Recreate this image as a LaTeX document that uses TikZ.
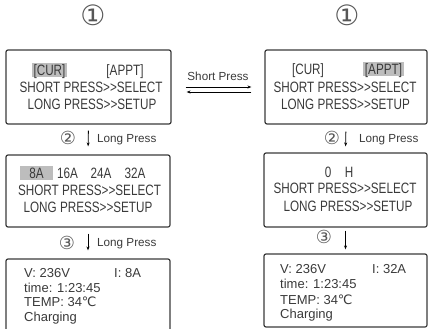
\documentclass[tikz,border=0pt]{standalone}
\usepackage{fontspec}
\setmainfont{Liberation Sans}
\newfontfamily\lcdfont[FakeStretch=0.78]{Liberation Sans}
\newfontfamily\circfont{DejaVu Sans}
\usetikzlibrary{arrows.meta, positioning}
\definecolor{lcdgray}{HTML}{3A3A3A}
\definecolor{hlgray}{HTML}{BDBDBD}
\tikzset{
	screennode/.style={
			draw=lcdgray,
			line width=1.2pt,
			rounded corners=2pt,
			inner sep=0pt
		},
	lcdtext/.style={
			font=\lcdfont\fontsize{15}{17}\selectfont,
			text=lcdgray,
			inner sep=0pt,
			text height=10.7pt,
			text depth=0pt
		},
	hltext/.style={
			lcdtext,
			fill=hlgray,
			inner xsep=1.5pt,
			inner ysep=2pt
		},
	statustext/.style={
			font=\fontsize{13}{15}\selectfont,
			text=lcdgray,
			inner sep=0pt,
			text height=9.3pt,
			text depth=0pt,
			anchor=west
		},
	presslabel/.style={
			font=\fontsize{11.7}{13}\selectfont,
			text=lcdgray,
			inner sep=0pt,
			text height=8.4pt,
			text depth=0pt
		},
	stepnum/.style={
			font=\circfont\fontsize{18}{20}\selectfont,
			text=lcdgray!85,
			inner sep=0pt
		},
	screennum/.style={
			font=\circfont\fontsize{28}{30}\selectfont,
			text=lcdgray!85,
			inner sep=0pt
		},
	pressarrow/.style={
			line width=0.8pt,
			black,
			-{Stealth[length=4pt,width=3pt]}
		}
}
\newcommand{\degc}{{\circfont ℃}}

\begin{document}
\begin{tikzpicture}[x=1pt, y=-1pt]
\useasboundingbox (0,0) rectangle (428,329);

% screens
\node[screennode, minimum width=165pt, minimum height=74pt] (cur) at (88.5,87) {};
\node[screennode, minimum width=162pt, minimum height=74pt] (appt) at (346,87) {};
\node[screennode, minimum width=164pt, minimum height=72pt] (cursel) at (88,191) {};
\node[screennode, minimum width=163pt, minimum height=74pt] (apptsel) at (345.5,190) {};
\node[screennode, minimum width=164pt, minimum height=72pt] (curstat) at (88,295) {};
\node[screennode, minimum width=163pt, minimum height=73pt] (apptstat) at (345.5,290.5) {};

% screen numbers
\node[screennum] (numl) at (93,15) {①};
\node[screennum] (numr) at (347,15) {①};

% main menu
\node[hltext] (curtabl) at (49.5,70) {[CUR]};
\node[lcdtext] (appttabl) at (125,70) {[APPT]};
\node[lcdtext] (shortl) at (91,87) {SHORT PRESS>{}>SELECT};
\node[lcdtext] (longl) at (92,104) {LONG PRESS>{}>SETUP};

\node[lcdtext] (curtabr) at (308,69) {[CUR]};
\node[hltext] (appttabr) at (383.5,69) {[APPT]};
\node[lcdtext] (shortr) at (345,87) {SHORT PRESS>{}>SELECT};
\node[lcdtext] (longr) at (345.5,104) {LONG PRESS>{}>SETUP};

% selection
\node[hltext, minimum width=33pt] (amp8) at (36.5,173) {8A};
\node[lcdtext] (amp16) at (67.5,173) {16A};
\node[lcdtext] (amp24) at (101,173) {24A};
\node[lcdtext] (amp32) at (135,173) {32A};
\node[lcdtext] (shortsl) at (89.5,190) {SHORT PRESS>{}>SELECT};
\node[lcdtext] (longsl) at (88,207) {LONG PRESS>{}>SETUP};

\node[lcdtext] (hours) at (328,172) {0};
\node[lcdtext] (hunit) at (349,172) {H};
\node[lcdtext] (shortsr) at (345,188) {SHORT PRESS>{}>SELECT};
\node[lcdtext] (longsr) at (348,206) {LONG PRESS>{}>SETUP};

% status
\node[statustext] (voltl) at (24,273) {V: 236V};
\node[statustext] (ampl) at (114,273) {I: 8A};
\node[statustext] (timel) at (24,288) {time: 1:23:45};
\node[statustext] (templ) at (24,302) {TEMP: 34\degc};
\node[statustext] (chgl) at (24,317) {Charging};

\node[statustext] (voltr) at (280,269) {V: 236V};
\node[statustext] (ampr) at (372,269) {I: 32A};
\node[statustext] (timer) at (280,284) {time: 1:23:45};
\node[statustext] (tempr) at (280,300) {TEMP: 34\degc};
\node[statustext] (chgr) at (280,314) {Charging};

% steps
\node[stepnum] (twol) at (68,138) {②};
\node[stepnum] (twor) at (332,138) {②};
\node[stepnum] (threel) at (67,243) {③};
\node[stepnum] (threer) at (324,237) {③};
\node[presslabel, anchor=west] (longpl1) at (97,138) {Long Press};
\node[presslabel, anchor=west] (longpl2) at (97,242) {Long Press};
\node[presslabel, anchor=west] (longpr1) at (359,138) {Long Press};
\node[presslabel] (shortp) at (218,76) {Short Press};

\draw[pressarrow, shorten <=6pt, shorten >=8pt] (cur.south) -- (cursel.north);
\draw[pressarrow, shorten <=6pt, shorten >=8pt] (cursel.south) -- (curstat.north);
\draw[pressarrow, shorten <=7pt, shorten >=6pt] (appt.south) -- (apptsel.north);
\draw[pressarrow, shorten <=3pt, shorten >=4pt] (apptsel.south) -- (apptstat.north);

\draw[pressarrow, shorten <=14pt, shorten >=13pt] (cur.east) -- (appt.west);
\draw[pressarrow, shorten <=13pt, shorten >=15pt] ([yshift=-5pt]appt.west) -- ([yshift=-5pt]cur.east);
\end{tikzpicture}
\end{document}
